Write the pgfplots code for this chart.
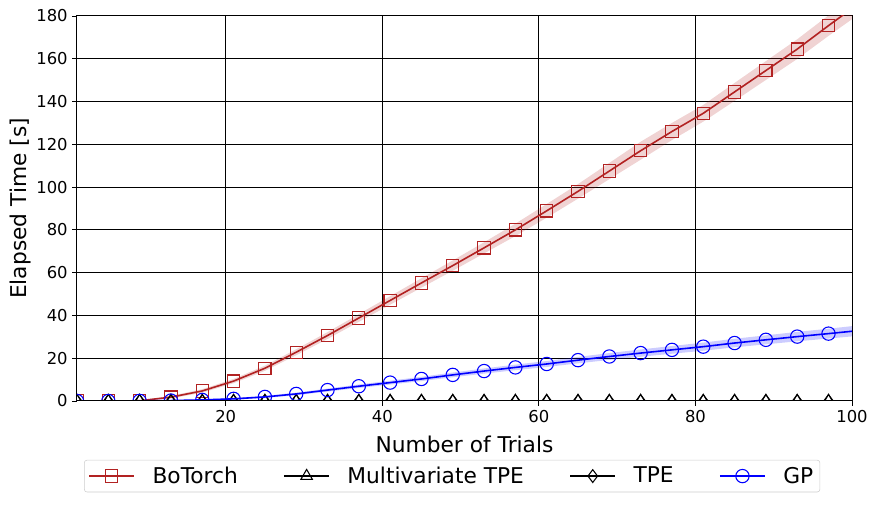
\documentclass[border=0pt]{standalone}
\usepackage{fontspec}
\setmainfont{DejaVu Sans}
\usepackage{pgfplots}
\usepackage{pgfplotstable}
\pgfplotsset{compat=1.18}
\usepgfplotslibrary{fillbetween}
\definecolor{bored}{RGB}{178,34,34}
\definecolor{gpblue}{RGB}{0,0,255}
\pgfplotstableread{
x y lo hi
1 0 0 0
5 0 0 0
9 0.1 0 0.3
13 1.8 1.2 2.4
17 4.7 3.9 5.5
21 9.3 8.3 10.3
25 15.3 14.1 16.5
29 22.8 21.4 24.2
33 30.6 29.0 32.2
37 38.8 37.0 40.6
41 47.0 45.0 49.0
45 55.2 53.0 57.4
49 63.3 60.9 65.7
53 71.6 69.0 74.2
57 80.0 77.1 82.9
61 88.9 85.7 92.1
65 98.0 94.6 101.4
69 107.5 103.7 111.3
73 117.0 112.8 121.2
77 126.0 122.0 130.0
81 134.5 130.6 138.4
85 144.5 140.3 148.7
89 154.5 150.1 158.9
93 164.5 159.9 169.1
97 175.5 170.7 180.3
100 183.5 178.5 188.5
}\botorch
\pgfplotstableread{
x y lo hi
1 0 0 0
5 0 0 0
9 0.05 0 0.15
13 0.2 0.05 0.35
17 0.5 0.25 0.75
21 1.0 0.6 1.4
25 1.9 1.4 2.4
29 3.3 2.7 3.9
33 5.1 4.4 5.8
37 6.9 6.1 7.7
41 8.6 7.7 9.5
45 10.3 9.3 11.3
49 12.2 11.1 13.3
53 14.0 12.8 15.2
57 15.7 14.4 17.0
61 17.3 15.9 18.7
65 19.1 17.6 20.6
69 20.8 19.2 22.4
73 22.4 20.7 24.1
77 23.9 22.1 25.7
81 25.4 23.5 27.3
85 27.1 25.1 29.1
89 28.6 26.5 30.7
93 30.1 27.9 32.3
97 31.5 29.2 33.8
100 32.6 30.2 35.0
}\gp
\pgfplotstableread{
x y
1 0
5 0
9 0
13 0
17 0
21 0
25 0
29 0
33 0
37 0
41 0
45 0
49 0
53 0
57 0
61 0
65 0
69 0
73 0
77 0
81 0
85 0
89 0
93 0
97 0
}\tpe
\begin{document}
\begin{tikzpicture}
\begin{axis}[
  at={(0pt,0pt)}, anchor=south west,
  scale only axis,
  width=581.25pt, height=288.75pt,
  xmin=1, xmax=100, ymin=0, ymax=180,
  xtick={20,40,60,80,100},
  ytick={0,20,...,180},
  tick align=outside,
  tick pos=left,
  major tick length=3.5pt,
  tick style={black, line width=0.6pt},
  grid=major,
  grid style={black, line width=0.75pt},
  axis line style={black, line width=0.75pt},
  /pgf/number format/assume math mode=true,
  ticklabel style={font=\fontsize{12.3}{14}\selectfont},
  xlabel={Number of Trials},
  ylabel={Elapsed Time [s]},
  label style={font=\fontsize{16.3}{19}\selectfont},
  xlabel style={yshift=-3pt},
  ylabel style={yshift=-3pt},
  clip marker paths=true,
  legend columns=4,
  legend cell align=left,
  legend style={at={(0.484,-0.195)}, anchor=center,
    draw={rgb,255:red,204;green,204;blue,204}, rounded corners=2pt,
    font=\fontsize{16.3}{19}\selectfont,
    inner xsep=3pt, inner ysep=3pt,
    /tikz/every even column/.append style={column sep=32pt}},
  legend image code/.code={
    \draw[mark indices={2}] plot coordinates {(0pt,0pt) (17pt,0pt) (34pt,0pt)};
    \path (45pt,0pt);},
]
\addplot[name path=bu, draw=none, forget plot] table[x=x,y=hi]{\botorch};
\addplot[name path=bl, draw=none, forget plot] table[x=x,y=lo]{\botorch};
\addplot[bored, fill opacity=0.2, forget plot] fill between[of=bu and bl];
\addplot[name path=gu, draw=none, forget plot] table[x=x,y=hi]{\gp};
\addplot[name path=gl, draw=none, forget plot] table[x=x,y=lo]{\gp};
\addplot[gpblue, fill opacity=0.2, forget plot] fill between[of=gu and gl];

\addplot[bored, line width=1.2pt, mark=square, mark size=4.6pt,
  mark options={solid, line width=0.8pt}, mark indices={1,...,25}] table[x=x,y=y]{\botorch};
\addlegendentry{BoTorch}
\addplot[black, line width=1.2pt, mark=triangle, mark size=5pt,
  mark options={solid, line width=0.8pt}] table[x=x,y=y]{\tpe};
\addlegendentry{Multivariate TPE}
\addplot[black, line width=1.2pt, mark=diamond, mark size=4.8pt,
  mark options={solid, line width=0.8pt}] table[x=x,y=y]{\tpe};
\addlegendentry{TPE}
\addplot[gpblue, line width=1.2pt, mark=o, mark size=5pt,
  mark options={solid, line width=0.8pt}, mark indices={1,...,25}] table[x=x,y=y]{\gp};
\addlegendentry{GP}
\draw[black, line width=1.2pt] (axis cs:1,0) -- (axis cs:100,0);
\end{axis}
\pgfresetboundingbox
\useasboundingbox (-57.75pt,-78pt) rectangle (600pt,300.75pt);
\end{tikzpicture}
\end{document}
